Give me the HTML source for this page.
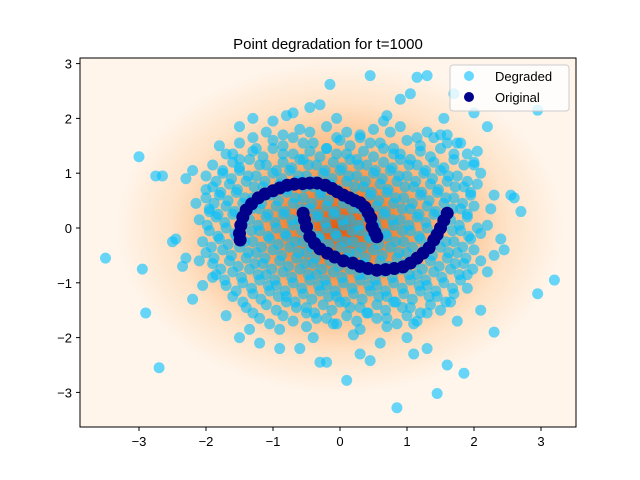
<!DOCTYPE html>
<html><head><meta charset="utf-8"><style>
html,body{margin:0;padding:0;background:#fff;width:640px;height:480px;overflow:hidden}
svg text{font-family:"Liberation Sans","DejaVu Sans",sans-serif;fill:#000}
</style></head><body>
<svg id="chart" width="640" height="480" viewBox="0 0 640 480" xmlns="http://www.w3.org/2000/svg">
<defs>
<radialGradient id="dens" cx="0.524" cy="0.46" r="0.45">
<stop offset="0" stop-color="#e05a10"/>
<stop offset="0.25" stop-color="#f2893c"/>
<stop offset="0.5" stop-color="#fbbf8a"/>
<stop offset="0.75" stop-color="#fee3c8"/>
<stop offset="1" stop-color="#fff5eb"/>
</radialGradient>
<clipPath id="clip"><rect x="80" y="58" width="496" height="369"/></clipPath>
</defs>
<rect x="80" y="58" width="496" height="369" fill="#fff5eb"/>
<rect x="80" y="58" width="496" height="369" fill="url(#dens)"/>
<g id="degraded" clip-path="url(#clip)"></g>
<g id="original" clip-path="url(#clip)"></g>
<rect x="80" y="58" width="496" height="369" fill="none" stroke="#000" stroke-width="1"/>
<g id="xticks"></g>
<g id="yticks"></g>
<text x="328" y="49" text-anchor="middle" font-size="15">Point degradation for t=1000</text>
<g>
<rect x="450" y="65" width="119" height="46" rx="3" fill="#fff" fill-opacity="0.8" stroke="#ccc"/>
<circle cx="469" cy="76" r="5" fill="#00bfff" fill-opacity="0.6"/>
<text x="495" y="81" font-size="13">Degraded</text>
<circle cx="469" cy="97" r="5" fill="#00008b"/>
<text x="495" y="102" font-size="13">Original</text>
</g>
</svg>
<script>
const xTicks=[-3,-2,-1,0,1,2,3];
const yTicks=[-3,-2,-1,0,1,2,3];
const originalX=[-1.49,-1.5,-1.48,-1.45,-1.4,-1.32,-1.22,-1.12,-1.0,-0.9,-0.79,-0.68,-0.56,-0.45,-0.34,-0.22,-0.12,-0.04,0.05,0.14,0.22,0.3,0.37,0.42,0.46,0.48,0.52,0.55,
 -0.55,-0.53,-0.5,-0.45,-0.38,-0.3,-0.19,-0.08,0.05,0.19,0.3,0.42,0.55,0.68,0.81,0.94,1.05,1.15,1.24,1.33,1.4,1.45,1.5,1.55,1.6];
const originalY=[-0.22,-0.1,0.05,0.2,0.33,0.44,0.55,0.62,0.68,0.73,0.78,0.8,0.81,0.82,0.82,0.78,0.72,0.66,0.6,0.55,0.5,0.46,0.38,0.28,0.18,0.02,-0.08,-0.16,
 0.27,0.15,0.02,-0.16,-0.28,-0.38,-0.46,-0.53,-0.6,-0.64,-0.7,-0.74,-0.77,-0.76,-0.74,-0.71,-0.64,-0.55,-0.46,-0.36,-0.22,-0.12,0.0,0.14,0.27];
const outerX=[-3.5,-3.0,-2.95,-2.9,-2.75,-2.65,-2.7,3.2,2.95,2.95,0.45,-0.15,1.3,1.15,0.85,1.45,0.1,-0.2,-0.3,0.45,1.85,2.3,2.7,2.55,2.6,2.3,2.25,2.2,2.0,1.7,1.55,0.9,1.05,-0.45,-0.3,-1.5,-1.8,-1.6,-2.2,-2.3,-2.45,-2.5,-2.3,-2.2,-1.5,-1.2,-0.6,0.6,1.0,1.6,2.1,2.4,2.2,2.1,-2.1,-1.9,-2.0,2.0,1.9,-0.9,0.3,-1.0,1.3,0.7,-0.7,-2.35,2.45,-1.7,1.75,
 -1.3,-0.8,-0.05,0.65,1.5,2.05,-2.05,-1.95,2.2,1.1,-0.4,0.2,-1.35,1.75,-2.15,2.3];
const outerY=[-0.55,1.3,-0.75,-1.55,0.95,0.95,-2.55,-0.95,-1.2,2.15,2.78,2.62,2.78,2.75,-3.28,-3.02,-2.78,-2.45,-2.45,-2.42,-2.65,-1.9,0.3,0.6,0.55,0.6,0.35,1.85,2.1,2.45,2.0,2.35,2.45,2.2,2.25,1.85,1.5,1.35,1.05,0.9,-0.2,-0.25,-0.55,-1.3,-2.0,-2.1,-2.2,-2.1,-2.0,-2.5,-1.5,-0.2,-0.8,-0.1,-0.6,-0.9,0.7,1.2,-1.1,-2.2,-2.3,1.95,-2.2,2.05,2.1,-0.7,-0.4,-1.6,1.55,
 2.0,2.05,2.0,1.95,1.7,1.4,-1.05,0.3,0.05,-2.3,-2.0,-1.95,-1.85,-1.7,0.45,-0.5];
const rowY=[1.8,1.6,1.4,1.2,1.0,0.8,0.6,0.4,0.2,0.0,-0.2,-0.4,-0.6,-0.8,-1.0,-1.2,-1.4,-1.6,-1.8];
const rowX=[
[-1.1,-0.6,-0.2,0.1,0.5,0.9,1.3],
[-1.5,-1.0,-0.7,-0.4,0.0,0.3,0.6,1.0,1.4,1.8],
[-1.7,-1.3,-1.0,-0.7,-0.45,-0.2,0.1,0.35,0.65,0.9,1.2,1.5,1.9],
[-1.9,-1.6,-1.35,-1.1,-0.85,-0.6,-0.35,-0.1,0.15,0.4,0.65,0.9,1.15,1.4,1.7,2.0],
[-2.0,-1.75,-1.5,-1.25,-1.0,-0.75,-0.5,-0.25,0.0,0.25,0.5,0.75,1.0,1.25,1.5,1.75,2.1],
[-1.9,-1.65,-1.4,-1.15,-0.9,-0.65,-0.4,-0.15,0.1,0.35,0.6,0.85,1.1,1.35,1.6,1.85,2.05],
[-2.0,-1.8,-1.55,-1.3,-1.05,-0.8,-0.55,-0.3,-0.05,0.2,0.45,0.7,0.95,1.2,1.45,1.7,1.95],
[-1.95,-1.7,-1.45,-1.2,-0.95,-0.7,-0.45,-0.2,0.05,0.3,0.55,0.8,1.05,1.3,1.55,1.8,2.0],
[-2.1,-1.85,-1.6,-1.35,-1.1,-0.85,-0.6,-0.35,-0.1,0.15,0.4,0.65,0.9,1.15,1.4,1.65,1.9],
[-1.95,-1.7,-1.45,-1.2,-0.95,-0.7,-0.45,-0.2,0.05,0.3,0.55,0.8,1.05,1.3,1.55,1.8,2.05],
[-2.05,-1.8,-1.55,-1.3,-1.05,-0.8,-0.55,-0.3,-0.05,0.2,0.45,0.7,0.95,1.2,1.45,1.7,1.95],
[-2.0,-1.75,-1.5,-1.25,-1.0,-0.75,-0.5,-0.25,0.0,0.25,0.5,0.75,1.0,1.25,1.5,1.75,2.0],
[-1.9,-1.65,-1.4,-1.15,-0.9,-0.65,-0.4,-0.15,0.1,0.35,0.6,0.85,1.1,1.35,1.6,1.85,2.1],
[-1.85,-1.6,-1.35,-1.1,-0.85,-0.6,-0.35,-0.1,0.15,0.4,0.65,0.9,1.15,1.4,1.65,1.9],
[-1.7,-1.45,-1.2,-0.95,-0.7,-0.45,-0.2,0.05,0.3,0.55,0.8,1.05,1.3,1.55,1.8],
[-1.6,-1.3,-1.05,-0.8,-0.55,-0.3,-0.05,0.2,0.45,0.7,0.95,1.2,1.45,1.7],
[-1.4,-1.1,-0.8,-0.5,-0.25,0.0,0.3,0.55,0.8,1.05,1.35,1.65],
[-1.2,-0.85,-0.5,-0.2,0.1,0.4,0.7,1.0,1.3],
[-0.9,-0.5,-0.1,0.3,0.7,1.1]];
const rowY2=[1.7,1.5,1.3,1.1,0.9,0.7,0.5,0.3,0.1,-0.1,-0.3,-0.5,-0.7,-0.9,-1.1,-1.3,-1.5,-1.7];
const rowX2=[
[-1.3,-0.85,-0.45,-0.05,0.3,0.75,1.15,1.6],
[-1.25,-0.85,-0.55,-0.2,0.15,0.45,0.8,1.2,1.6],
[-1.5,-1.15,-0.85,-0.55,-0.3,-0.05,0.25,0.5,0.8,1.05,1.35,1.7],
[-1.75,-1.5,-1.2,-0.95,-0.72,-0.47,-0.22,0.03,0.28,0.53,0.78,1.03,1.28,1.55,1.85],
[-1.85,-1.62,-1.37,-1.12,-0.87,-0.62,-0.37,-0.12,0.13,0.38,0.63,0.88,1.13,1.38,1.62,1.9],
[-1.78,-1.53,-1.28,-1.03,-0.78,-0.53,-0.28,-0.03,0.22,0.47,0.72,0.97,1.22,1.47,1.72,1.95],
[-1.88,-1.67,-1.42,-1.17,-0.92,-0.67,-0.42,-0.17,0.08,0.33,0.58,0.83,1.08,1.33,1.58,1.83],
[-1.82,-1.57,-1.32,-1.07,-0.82,-0.57,-0.32,-0.07,0.18,0.43,0.68,0.93,1.18,1.43,1.68,1.9],
[-1.98,-1.72,-1.47,-1.22,-0.97,-0.72,-0.47,-0.22,0.03,0.28,0.53,0.78,1.03,1.28,1.53,1.78],
[-1.82,-1.57,-1.32,-1.07,-0.82,-0.57,-0.32,-0.07,0.18,0.43,0.68,0.93,1.18,1.43,1.68,1.92],
[-1.92,-1.67,-1.42,-1.17,-0.92,-0.67,-0.42,-0.17,0.08,0.33,0.58,0.83,1.08,1.33,1.58,1.83],
[-1.88,-1.62,-1.37,-1.12,-0.87,-0.62,-0.37,-0.12,0.13,0.38,0.63,0.88,1.13,1.38,1.62,1.88],
[-1.78,-1.52,-1.27,-1.02,-0.77,-0.52,-0.27,-0.02,0.23,0.48,0.73,0.98,1.23,1.48,1.72,1.98],
[-1.72,-1.47,-1.22,-0.97,-0.72,-0.47,-0.22,0.03,0.28,0.53,0.78,1.03,1.28,1.52,1.78],
[-1.55,-1.32,-1.07,-0.82,-0.57,-0.32,-0.07,0.18,0.43,0.68,0.93,1.18,1.43,1.68],
[-1.45,-1.18,-0.92,-0.67,-0.42,-0.17,0.08,0.33,0.58,0.83,1.08,1.33,1.58],
[-1.3,-0.95,-0.65,-0.38,-0.12,0.15,0.42,0.68,0.93,1.2,1.5],
[-1.05,-0.7,-0.35,-0.05,0.25,0.55,0.85,1.15]];
const X0=340,XS=67,Y0=228,YS=54.8;
const sx=v=>X0+v*XS, sy=v=>Y0-v*YS;
const NS='http://www.w3.org/2000/svg';
const dg=document.getElementById('degraded');
function dot(g,x,y,r,fill,op){
 const c=document.createElementNS(NS,'circle');
 c.setAttribute('cx',sx(x));c.setAttribute('cy',sy(y));c.setAttribute('r',r);
 c.setAttribute('fill',fill);c.setAttribute('fill-opacity',op);
 g.appendChild(c);return c;
}
function rows(ys,xs){
 ys.forEach((y,i)=>xs[i].forEach((x,j)=>{
  const jy=y+((j%3)-1)*0.05;
  const c=dot(dg,x,jy,5.5,'#00bfff',0.6);
  
  
 }));
}
rows(rowY,rowX);
rows(rowY2,rowX2);
outerX.forEach((x,i)=>{
 const c=dot(dg,x,outerY[i],5.5,'#00bfff',0.6);
 
 
});
const og=document.getElementById('original');
originalX.forEach((x,i)=>{
 const c=dot(og,x,originalY[i],6.5,'#00008b',1);
 
 
});
const xg=document.getElementById('xticks');
xTicks.forEach(t=>{
 const l=document.createElementNS(NS,'line');
 l.setAttribute('x1',sx(t));l.setAttribute('x2',sx(t));l.setAttribute('y1',427);l.setAttribute('y2',431);l.setAttribute('stroke','#000');
 
 
 xg.appendChild(l);
 const tx=document.createElementNS(NS,'text');
 tx.setAttribute('x',sx(t));tx.setAttribute('y',446);tx.setAttribute('text-anchor','middle');tx.setAttribute('font-size','13');
 tx.textContent=t<0?'\u2212'+Math.abs(t):String(t);
 
 
 xg.appendChild(tx);
});
const yg=document.getElementById('yticks');
yTicks.forEach(t=>{
 const l=document.createElementNS(NS,'line');
 l.setAttribute('x1',76);l.setAttribute('x2',80);l.setAttribute('y1',sy(t));l.setAttribute('y2',sy(t));l.setAttribute('stroke','#000');
 
 
 yg.appendChild(l);
 const tx=document.createElementNS(NS,'text');
 tx.setAttribute('x',72);tx.setAttribute('y',sy(t)+5);tx.setAttribute('text-anchor','end');tx.setAttribute('font-size','13');
 tx.textContent=t<0?'\u2212'+Math.abs(t):String(t);
 
 
 yg.appendChild(tx);
});
</script>
</body></html>
